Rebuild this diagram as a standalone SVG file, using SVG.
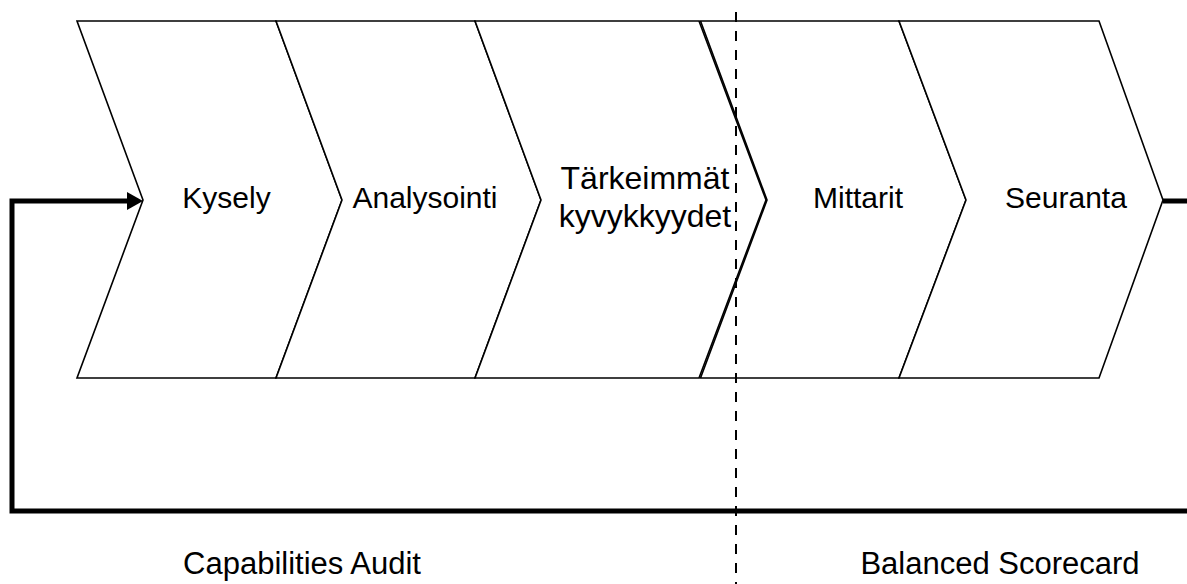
<svg xmlns="http://www.w3.org/2000/svg" width="1187" height="584" viewBox="0 0 1187 584">
  <style>
    .chev { fill: #ffffff; stroke: #000000; stroke-width: 1.6; stroke-linejoin: miter; }
    .lbl { font-family: "Liberation Sans", Arial, sans-serif; font-size: 30px; fill: #000000; text-anchor: middle; }
    .lbl-wide { font-size: 32px; }
    .phase { font-family: "Liberation Sans", Arial, sans-serif; font-size: 31px; fill: #000000; text-anchor: middle; }
    .loop { fill: none; stroke: #000000; stroke-width: 5; stroke-linejoin: miter; }
    .divider { stroke: #000000; stroke-width: 2; stroke-dasharray: 10 9; }
  </style>
  <defs>
    <marker id="arrowHead" markerUnits="userSpaceOnUse" markerWidth="18" markerHeight="20" refX="3" refY="9" orient="auto">
      <path d="M0,0 L16,9 L0,18 Z" fill="#000000"/>
    </marker>
  </defs>
  <rect width="1187" height="584" fill="#ffffff"/>

  <!-- feedback loop from the last step back to the first -->
  <g id="connectors">
    <path class="loop" d="M1163,201 H1200 V511 H12 V201 H130" marker-end="url(#arrowHead)"/>
  </g>

  <g id="node-kysely">
    <polygon class="chev" points="77,21 276,21 342,200 276,378 77,378 143,200"/>
    <text class="lbl" x="226.5" y="208">Kysely</text>
  </g>
  <g id="node-analysointi">
    <polygon class="chev" points="276,21 475,21 541,200 475,378 276,378 342,200"/>
    <text class="lbl" x="425" y="208">Analysointi</text>
  </g>
  <g id="node-tarkeimmat">
    <polygon class="chev" points="475,21 699,21 766,200 699,378 475,378 541,200"/>
    <text class="lbl lbl-wide" x="645" y="189">Tärkeimmät</text>
    <text class="lbl lbl-wide" x="645" y="227">kyvykkyydet</text>
  </g>
  <g id="node-mittarit">
    <polygon class="chev" points="700.5,21 899,21 966,200 899,378 700.5,378 767,200"/>
    <text class="lbl" x="858" y="208">Mittarit</text>
  </g>
  <g id="node-seuranta">
    <polygon class="chev" points="899,21 1099,21 1163,200 1099,378 899,378 966,200"/>
    <text class="lbl" x="1066" y="208">Seuranta</text>
  </g>

  <line class="divider" x1="736" y1="12" x2="736" y2="584"/>

  <text class="phase" x="302" y="574">Capabilities Audit</text>
  <text class="phase" x="1000" y="574">Balanced Scorecard</text>
</svg>
